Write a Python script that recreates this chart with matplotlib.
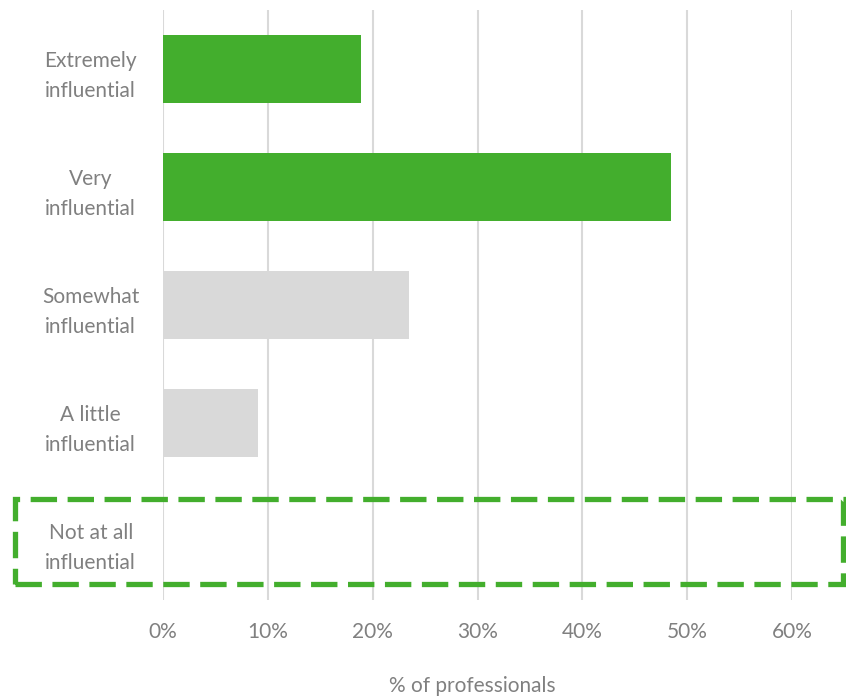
import matplotlib
matplotlib.use("Agg")
import matplotlib.pyplot as plt
from matplotlib.patches import Rectangle

categories = ["Extremely\ninfluential", "Very\ninfluential", "Somewhat\ninfluential",
              "A little\ninfluential", "Not at all\ninfluential"]
values = [0.189, 0.485, 0.235, 0.091, 0.0]
highlight = [True, True, False, False, False]
xticks = [0, 0.1, 0.2, 0.3, 0.4, 0.5, 0.6]
xticklabels = ["0%", "10%", "20%", "30%", "40%", "50%", "60%"]

GREEN = "#43AE2D"
GREY_BAR = "#D9D9D9"
TEXT = "#808080"
FS = 15

plt.rcParams['font.family'] = ['Lato', 'DejaVu Sans']

W, H = 846, 696
fig = plt.figure(figsize=(W / 100, H / 100), dpi=100)
ax = fig.add_axes([163 / W, 1 - 600 / H, (792 - 163) / W, 590 / H])

ypos = list(range(len(categories)))
colors = [GREEN if h else GREY_BAR for h in highlight]
ax.barh(ypos, values, height=0.57, color=colors, zorder=3)

ax.set_ylim(len(categories) - 0.5, -0.5)
ax.set_xlim(0, 0.6)
ax.set_xticks(xticks)
ax.set_xticklabels(xticklabels)
ax.set_yticks(ypos)
ax.set_yticklabels(categories, ha='center', multialignment='center', linespacing=1.65)
ax.tick_params(axis='y', length=0, pad=52, labelsize=FS, labelcolor=TEXT)
ax.tick_params(axis='x', length=0, pad=16, labelsize=FS, labelcolor=TEXT)
ax.grid(axis='x', color="#D9D9D9", linewidth=1.5, zorder=0)
ax.set_axisbelow(True)
for s in ax.spines.values():
    s.set_visible(False)

fig.text(472 / W, 1 - 686 / H, "% of professionals", ha='center', va='center',
         fontsize=FS, color=TEXT)

rect = Rectangle((15 / W, 1 - 584 / H), (843 - 15) / W, (584 - 499) / H,
                 transform=fig.transFigure, fill=False, edgecolor=GREEN,
                 linewidth=3.8, linestyle=(0, (5, 2.0)), joinstyle='miter',
                 clip_on=False, zorder=5)
fig.patches.append(rect)

fig.savefig("out.png", dpi=100)
